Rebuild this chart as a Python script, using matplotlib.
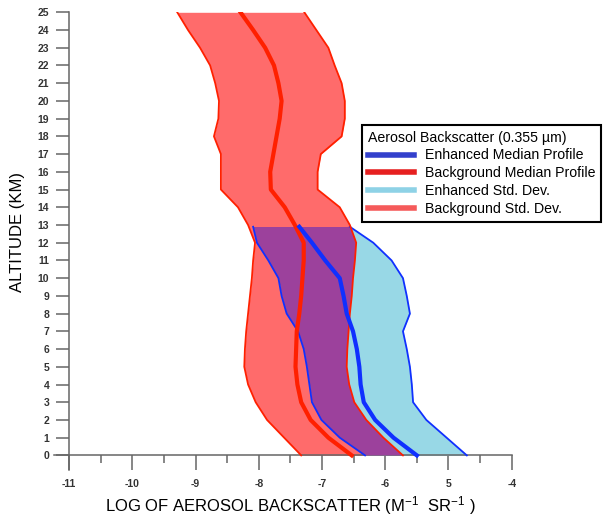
import numpy as np
import matplotlib
matplotlib.use('Agg')
import matplotlib.pyplot as plt
from matplotlib.lines import Line2D

plt.rcParams['font.family'] = ['Liberation Sans', 'DejaVu Sans']
plt.rcParams['mathtext.fontset'] = 'custom'
plt.rcParams['mathtext.rm'] = 'Liberation Sans'
plt.rcParams['mathtext.it'] = 'Liberation Sans'

# background profile, 0-25 km
alt_bg = np.arange(0, 26)
bg_low = [-7.33, -7.60, -7.87, -8.05, -8.17, -8.23, -8.22, -8.20, -8.17, -8.14,
          -8.11, -8.09, -8.06, -8.17, -8.33, -8.60, -8.60, -8.60, -8.71, -8.64,
          -8.63, -8.69, -8.77, -8.93, -9.12, -9.29]
bg_med = [-6.53, -6.90, -7.18, -7.33, -7.39, -7.42, -7.41, -7.40, -7.36, -7.33,
          -7.31, -7.29, -7.29, -7.43, -7.59, -7.81, -7.82, -7.77, -7.72, -7.67,
          -7.64, -7.69, -7.76, -7.90, -8.09, -8.29]
bg_high = [-5.72, -6.03, -6.30, -6.49, -6.57, -6.61, -6.60, -6.58, -6.56, -6.53,
           -6.51, -6.48, -6.46, -6.56, -6.72, -7.07, -7.07, -7.02, -6.69, -6.64,
           -6.64, -6.69, -6.80, -6.90, -7.09, -7.28]

# enhanced profile, 0-12.9 km
alt_en = [0, 1, 2, 3, 4, 5, 6, 7, 8, 9, 10, 11, 12, 12.9]
en_low = [-6.32, -6.72, -7.01, -7.16, -7.20, -7.24, -7.29, -7.38, -7.56, -7.64,
          -7.69, -7.85, -8.03, -8.09]
en_med = [-5.50, -5.87, -6.16, -6.34, -6.39, -6.41, -6.45, -6.51, -6.61, -6.66,
          -6.72, -6.95, -7.16, -7.36]
en_high = [-4.71, -5.03, -5.35, -5.56, -5.58, -5.61, -5.66, -5.72, -5.61, -5.66,
           -5.72, -5.90, -6.19, -6.56]

xticks = [-11, -10, -9, -8, -7, -6, -5, -4]
xtick_labels = ['-11', '-10', '-9', '-8', '-7', '-6', '5', '-4']

red_fill = '#ff6b6b'
blue_fill = '#98d8e6'
overlap = '#9c419c'
red_line = '#ff2000'
blue_line = '#1030ff'

fig = plt.figure(figsize=(6.06, 5.16), dpi=100)
ax = fig.add_axes([54 / 606, 46 / 516, 457.7 / 606, 457.7 / 516])

bg_poly = ax.fill_betweenx(alt_bg, bg_low, bg_high, color=red_fill, lw=0, zorder=1)
ax.fill_betweenx(alt_en, en_low, en_high, color=blue_fill, lw=0, zorder=2)
ov = ax.fill_betweenx(alt_en, en_low, en_high, color=overlap, lw=0, zorder=3)
ov.set_clip_path(bg_poly.get_paths()[0], ax.transData)

ax.plot(en_low, alt_en, color=blue_line, lw=1.3, zorder=4)
ax.plot(en_high, alt_en, color=blue_line, lw=1.3, zorder=4)
ax.plot(bg_low, alt_bg, color=red_line, lw=1.3, zorder=4)
ax.plot(bg_high, alt_bg, color=red_line, lw=1.3, zorder=4)
ax.plot(bg_med, alt_bg, color=red_line, lw=3.0, zorder=5)
ax.plot(en_med, alt_en, color=blue_line, lw=3.0, zorder=6)

ax.set_xlim(-11.24, -4)
ax.set_ylim(-0.824, 25)
ax.spines['left'].set_position(('data', -11))
ax.spines['bottom'].set_position(('data', 0))
ax.spines['top'].set_visible(False)
ax.spines['right'].set_visible(False)
for s in ['left', 'bottom']:
    ax.spines[s].set_color('#666666')
    ax.spines[s].set_linewidth(1.1)

ax.set_yticks(range(0, 26))
ax.set_xticks(xticks)
ax.set_xticklabels(xtick_labels)
ax.set_xticks(np.arange(-10.5, -4, 1), minor=True)
ax.tick_params(axis='y', direction='out', length=9.4, width=1.1, pad=5,
               labelsize=7.5, colors='#666666', labelcolor='#333333')
ax.tick_params(axis='x', which='major', direction='out', length=10.8, width=1.1,
               pad=6, labelsize=7.5, colors='#666666', labelcolor='#333333')
ax.tick_params(axis='x', which='minor', direction='out', length=5.8, width=1.1,
               colors='#666666')
for lab in ax.get_xticklabels() + ax.get_yticklabels():
    lab.set_fontweight('bold')

fig.text(290 / 606, 1 - 506 / 516, r'LOG OF AEROSOL BACKSCATTER (M$^{-1}$  SR$^{-1}$ )',
         ha='center', va='center', fontsize=12)
fig.text(17.5 / 606, 1 - 232.5 / 516, 'ALTITUDE (KM)', rotation=90,
         ha='center', va='center', fontsize=12)

handles = [Line2D([], [], color='#3340cc', lw=4),
           Line2D([], [], color='#e62020', lw=4),
           Line2D([], [], color='#8ed2e6', lw=4),
           Line2D([], [], color='#f55a5a', lw=4)]
labels = ['Enhanced Median Profile', 'Background Median Profile',
          'Enhanced Std. Dev.', 'Background Std. Dev.']
leg = ax.legend(handles, labels, title='Aerosol Backscatter (0.355 \u00b5m)',
                loc='upper left', bbox_to_anchor=(362 / 606, 1 - 125 / 516),
                bbox_transform=fig.transFigure, borderaxespad=0,
                fontsize=10.2, title_fontsize=10.2, alignment='left',
                fancybox=False, framealpha=1, edgecolor='black',
                handlelength=3.3, handletextpad=0.75, labelspacing=0.27,
                borderpad=0.4)
leg.get_frame().set_linewidth(1.5)

fig.savefig('out.png', dpi=100)
